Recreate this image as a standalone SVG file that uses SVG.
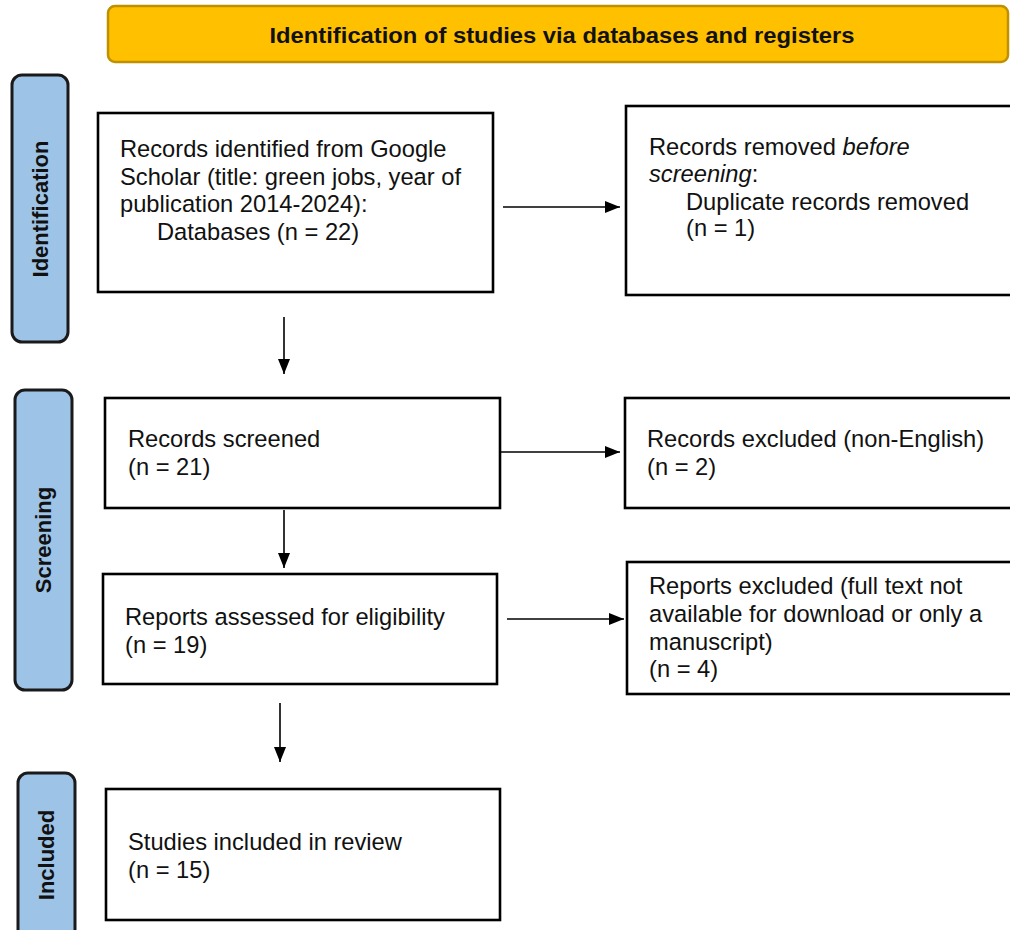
<svg xmlns="http://www.w3.org/2000/svg" width="1010" height="930" viewBox="0 0 1010 930">
<style>
.box{fill:#fff;stroke:#000;stroke-width:2.6}
.lab{fill:#9DC3E6;stroke:#1a1a1a;stroke-width:3}
.t{font-family:"Liberation Sans",Arial,sans-serif;font-size:23.7px;fill:#111}
.lt{font-family:"Liberation Sans",Arial,sans-serif;font-size:22px;font-weight:bold;fill:#111;text-anchor:middle}
.ht{font-family:"Liberation Sans",Arial,sans-serif;font-size:22px;font-weight:bold;fill:#111;text-anchor:middle}
.c{stroke:#000;stroke-width:1.6;fill:none;marker-end:url(#ah)}
</style>
<defs>
<marker id="ah" markerUnits="userSpaceOnUse" markerWidth="16" markerHeight="14" refX="15" refY="6" orient="auto">
<path d="M0,0 L15,6 L0,12 Z" fill="#000"/>
</marker>
</defs>
<rect width="1010" height="930" fill="#fff"/>

<g id="header">
<rect x="108" y="6" width="900" height="56" rx="7" fill="#FFC000" stroke="#BF9000" stroke-width="2.5"/>
<text class="ht" x="562" y="43" textLength="585" lengthAdjust="spacingAndGlyphs">Identification of studies via databases and registers</text>
</g>

<g id="label-identification">
<rect class="lab" x="12" y="75" width="56" height="267" rx="10"/>
<text class="lt" transform="translate(48,209) rotate(-90)">Identification</text>
</g>
<g id="label-screening">
<rect class="lab" x="15" y="390" width="57" height="300" rx="10"/>
<text class="lt" transform="translate(51,540) rotate(-90)">Screening</text>
</g>
<g id="label-included">
<rect class="lab" x="18" y="773" width="57" height="170" rx="10"/>
<text class="lt" transform="translate(54,855) rotate(-90)">Included</text>
</g>

<g id="n-identified">
<rect class="box" x="98" y="113" width="395" height="179"/>
<text class="t" x="120" y="157">Records identified from Google</text>
<text class="t" x="120" y="185">Scholar (title: green jobs, year of</text>
<text class="t" x="120" y="212">publication 2014-2024):</text>
<text class="t" x="157" y="240">Databases (n = 22)</text>
</g>

<g id="n-removed">
<rect class="box" x="626" y="106" width="390" height="189"/>
<text class="t" x="649" y="155">Records removed <tspan font-style="italic">before</tspan></text>
<text class="t" x="649" y="182"><tspan font-style="italic">screening</tspan>:</text>
<text class="t" x="686" y="210">Duplicate records removed</text>
<text class="t" x="686" y="236">(n = 1)</text>
</g>

<g id="n-screened">
<rect class="box" x="105" y="398" width="395" height="110"/>
<text class="t" x="128" y="447">Records screened</text>
<text class="t" x="128" y="475">(n = 21)</text>
</g>

<g id="n-excluded">
<rect class="box" x="625" y="398" width="390" height="110"/>
<text class="t" x="647" y="447">Records excluded (non-English)</text>
<text class="t" x="647" y="475">(n = 2)</text>
</g>

<g id="n-assessed">
<rect class="box" x="103" y="574" width="394" height="110"/>
<text class="t" x="125" y="625">Reports assessed for eligibility</text>
<text class="t" x="125" y="653">(n = 19)</text>
</g>

<g id="n-reports-excluded">
<rect class="box" x="627" y="562" width="390" height="132"/>
<text class="t" x="649" y="594">Reports excluded (full text not</text>
<text class="t" x="649" y="622">available for download or only a</text>
<text class="t" x="649" y="650">manuscript)</text>
<text class="t" x="649" y="677">(n = 4)</text>
</g>

<g id="n-included">
<rect class="box" x="106" y="789" width="394" height="131"/>
<text class="t" x="128" y="850">Studies included in review</text>
<text class="t" x="128" y="878">(n = 15)</text>
</g>

<g id="connectors">
<line class="c" x1="503" y1="207" x2="620" y2="207"/>
<line class="c" x1="284" y1="317" x2="284" y2="374"/>
<line class="c" x1="501" y1="452" x2="620" y2="452"/>
<line class="c" x1="284" y1="510" x2="284" y2="568"/>
<line class="c" x1="507" y1="619" x2="624" y2="619"/>
<line class="c" x1="280" y1="703" x2="280" y2="762"/>
</g>
</svg>
